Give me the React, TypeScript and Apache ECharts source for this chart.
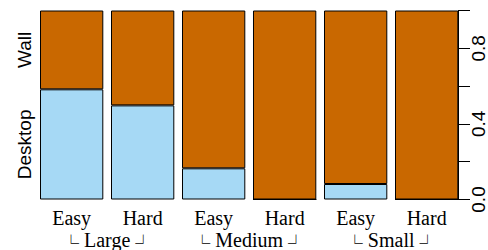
import React, { useEffect, useRef } from "react";
import * as echarts from "echarts";

const difficulty = ["Easy", "Hard", "Easy", "Hard", "Easy", "Hard"];
const sizeGroups = ["Large", "Medium", "Small"];
const desktopShare = [0.583, 0.498, 0.165, 0, 0.082, 0];
const wallShare = [0.417, 0.502, 0.835, 1, 0.918, 1];
const responseLabels = ["Desktop", "Wall"];

const BLUE = "#A6D9F5";
const ORANGE = "#C96800";
const SERIF = "Liberation Serif";
const SANS = "Liberation Sans";
const CJK = "Noto Sans CJK SC";

export default function App() {
  const ref = useRef<HTMLDivElement>(null);
  useEffect(() => {
    if (!ref.current) return;
    const chart = echarts.init(ref.current, null, { renderer: "svg" });
    const firstDesk = desktopShare[0];
    const labelPos = [firstDesk / 2, (1 + firstDesk) / 2];
    chart.setOption({
      animation: false,
      grid: { left: 36.15, right: 25.85, top: 10.5, bottom: 50.5 },
      xAxis: [
        {
          type: "category",
          data: difficulty,
          position: "bottom",
          axisLine: { show: false },
          axisTick: { show: false },
          axisLabel: { fontFamily: SERIF, fontSize: 20, color: "#000", margin: 8.5, interval: 0 },
        },
        {
          type: "category",
          data: sizeGroups,
          position: "bottom",
          axisLine: { show: false },
          axisTick: { show: false },
          axisLabel: {
            fontFamily: SERIF,
            fontSize: 20,
            lineHeight: 20,
            color: "#000",
            margin: 30.5,
            interval: 0,
            formatter: (v: string) => "{c|\u2514} " + v + " {c|\u2518}",
            rich: {
              c: { fontFamily: CJK, fontSize: 16, lineHeight: 16, verticalAlign: "bottom", color: "#000" },
            },
          },
        },
      ],
      yAxis: [
        {
          type: "value",
          position: "right",
          offset: -4.15,
          min: 0,
          max: 1,
          interval: 0.2,
          splitLine: { show: false },
          axisLine: { show: true, lineStyle: { color: "#000", width: 1 } },
          axisTick: { show: true, length: 12, lineStyle: { color: "#000" } },
          axisLabel: {
            rotate: 90,
            fontFamily: SANS,
            fontSize: 19,
            color: "#000",
            margin: 11,
            formatter: (v: number) => {
              const k = Math.round(v * 10);
              return k % 4 === 0 ? (k / 10).toFixed(1) : "";
            },
          },
        },
        {
          type: "value",
          position: "left",
          offset: -3.85,
          min: 0,
          max: 1,
          splitLine: { show: false },
          axisLine: { show: false },
          axisTick: { show: false },
          axisLabel: {
            rotate: 90,
            fontFamily: SANS,
            fontSize: 19,
            color: "#000",
            margin: 6,
            customValues: labelPos,
            formatter: (v: number) => {
              const i = labelPos.findIndex((p) => Math.abs(p - v) < 1e-6);
              return i >= 0 ? responseLabels[i] : "";
            },
          },
        },
      ],
      series: [
        {
          type: "bar",
          name: responseLabels[0],
          stack: "s",
          barWidth: 63.3,
          xAxisIndex: 0,
          yAxisIndex: 0,
          data: desktopShare,
          itemStyle: { color: BLUE, borderColor: "#000", borderWidth: 1 },
        },
        {
          type: "bar",
          name: responseLabels[1],
          stack: "s",
          barWidth: 63.3,
          xAxisIndex: 0,
          yAxisIndex: 0,
          data: wallShare,
          itemStyle: { color: ORANGE, borderColor: "#000", borderWidth: 1 },
        },
      ],
    });
    return () => chart.dispose();
  }, []);
  return <div ref={ref} style={{ width: 488, height: 250, position: "absolute", left: 0, top: 0 }} />;
}
